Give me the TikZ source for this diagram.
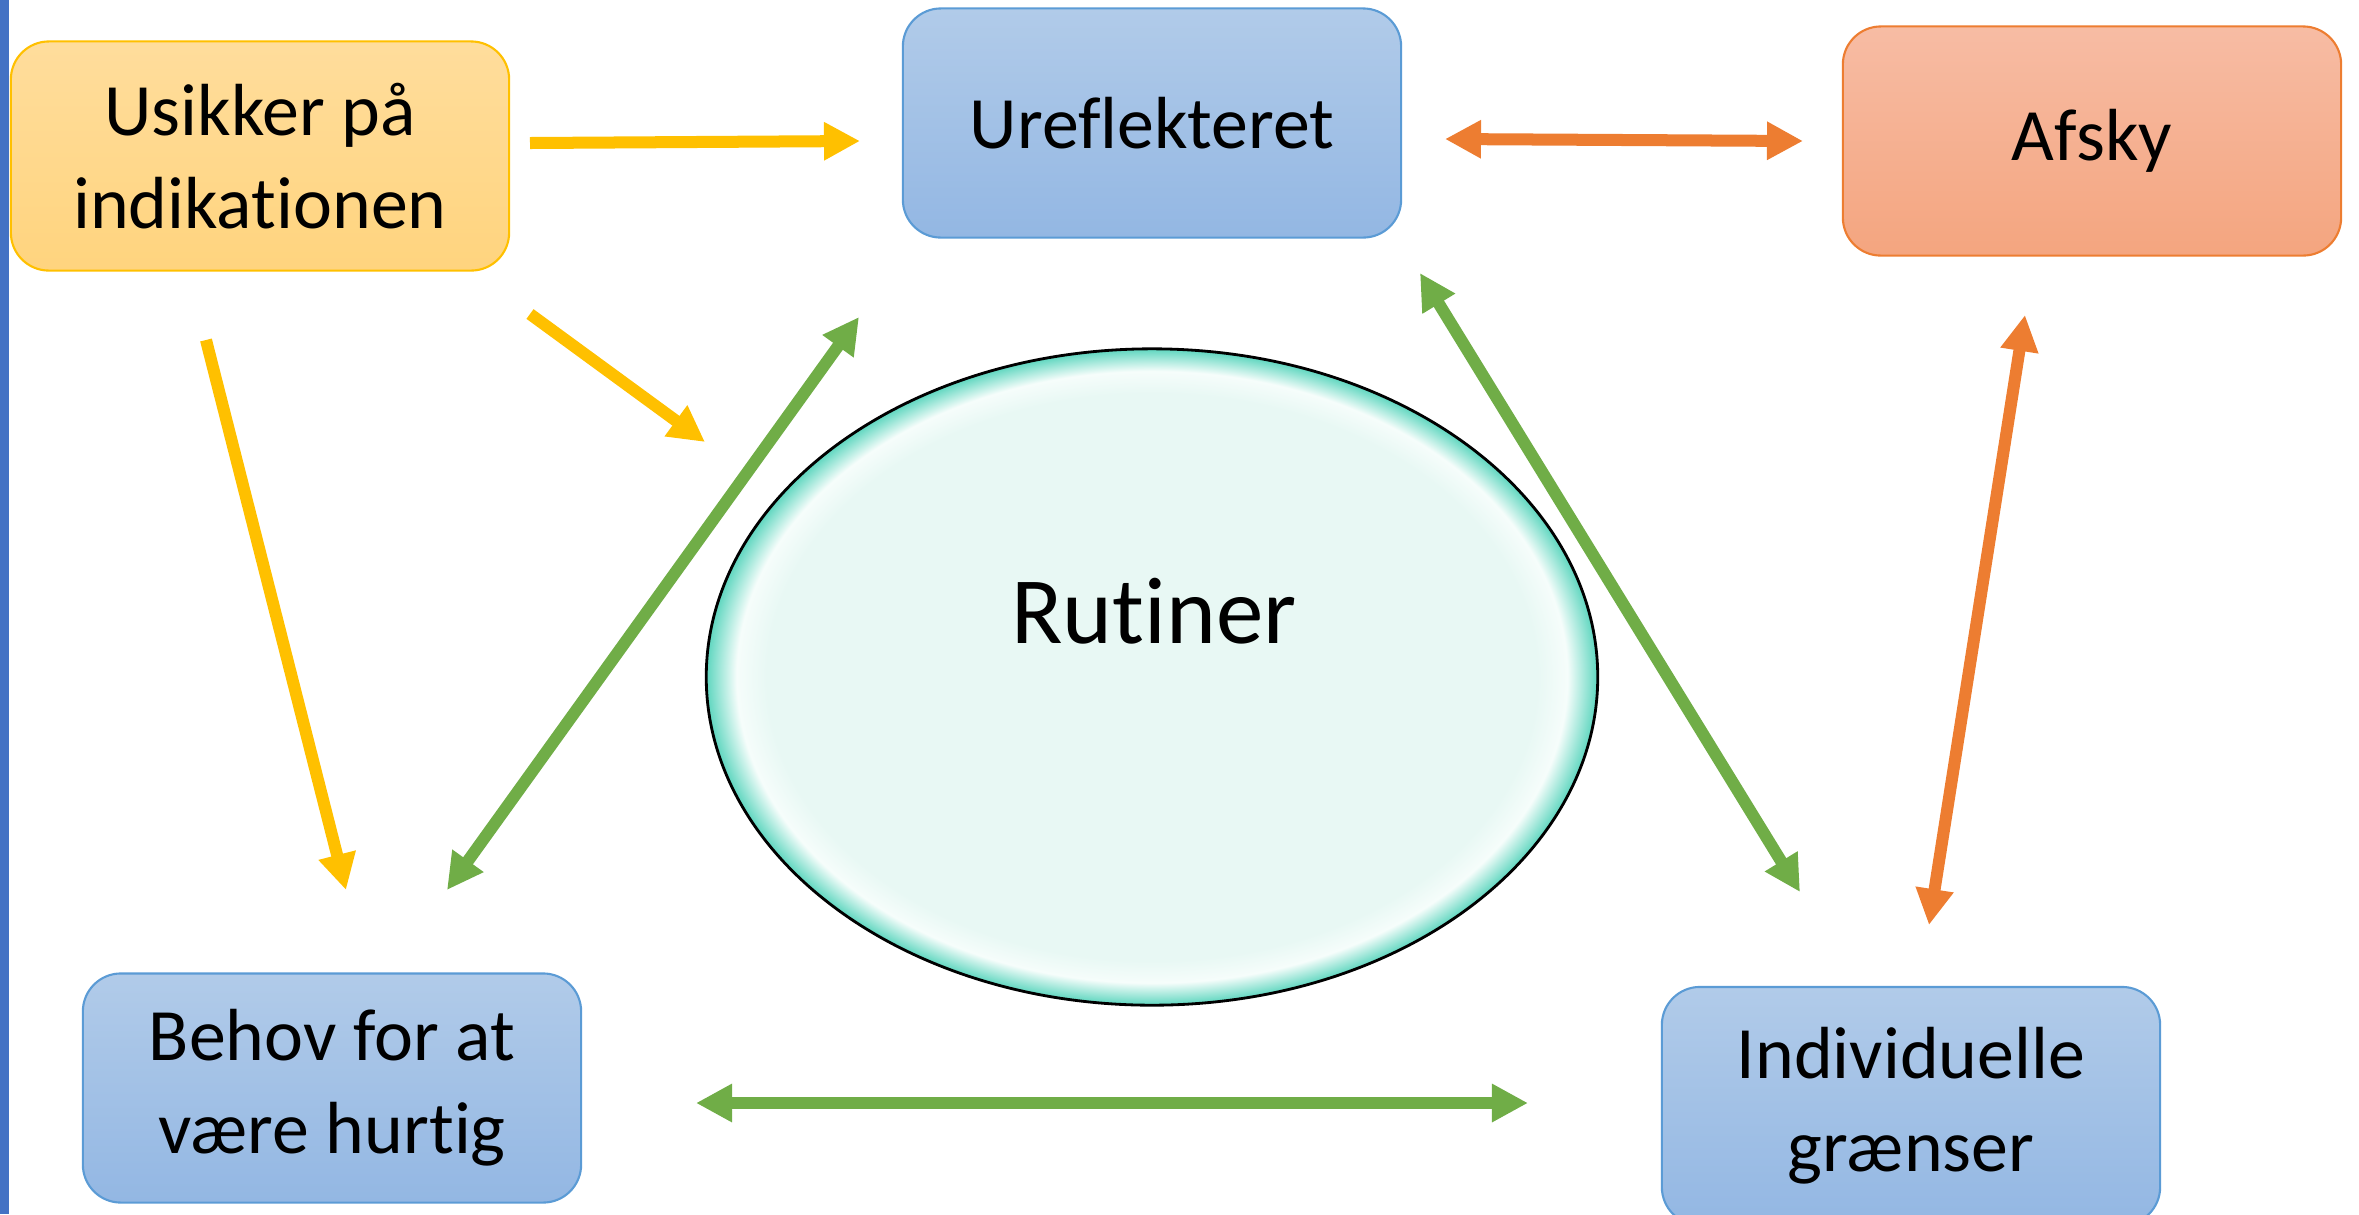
\documentclass[tikz,border=0pt]{standalone}
\usepackage{fontspec}
\setmainfont{Carlito}[Ligatures=NoCommon]
\usetikzlibrary{arrows.meta,shapes.geometric}
\definecolor{sideblue}{HTML}{4472C4}
\definecolor{boxblueline}{HTML}{5B9BD5}
\definecolor{boxbluetop}{HTML}{B1CBE9}
\definecolor{boxbluebot}{HTML}{93B7E3}
\definecolor{boxyelline}{HTML}{FFC000}
\definecolor{boxyeltop}{HTML}{FFDD9C}
\definecolor{boxyelbot}{HTML}{FFD47E}
\definecolor{boxorgline}{HTML}{ED7D31}
\definecolor{boxorgtop}{HTML}{F7BCA4}
\definecolor{boxorgbot}{HTML}{F4A57F}
\definecolor{arryel}{HTML}{FFC000}
\definecolor{arrgreen}{HTML}{70AD47}
\definecolor{arrorange}{HTML}{ED7D31}
\definecolor{mintfill}{HTML}{E8F8F4}
\definecolor{rimlight}{HTML}{F6FDFB}
\definecolor{rimteal}{HTML}{5ED6BF}
\pgfdeclareradialshading{rutinerrim}{\pgfpointorigin}{color(0bp)=(mintfill); color(21.6bp)=(mintfill); color(23.3bp)=(rimlight); color(25bp)=(rimteal); color(50bp)=(rimteal)}
\begin{document}
\begin{tikzpicture}[x=0.01cm,y=-0.01cm,
	box/.style={rectangle,rounded corners=0.38cm,minimum width=4.98cm,minimum height=2.29cm,align=center,font=\fontsize{21}{26.5}\selectfont,line width=0.6pt},
	bluebox/.style={box,draw=boxblueline,top color=boxbluetop,bottom color=boxbluebot},
	yelbox/.style={box,draw=boxyelline,top color=boxyeltop,bottom color=boxyelbot},
	orgbox/.style={box,draw=boxorgline,top color=boxorgtop,bottom color=boxorgbot},
	yarrow/.style={draw=arryel,line width=0.12cm,-{Triangle[length=0.36cm,width=0.36cm]}},
	garrow/.style={draw=arrgreen,line width=0.12cm,{Triangle[length=0.36cm,width=0.36cm]}-{Triangle[length=0.36cm,width=0.36cm]}},
	oarrow/.style={draw=arrorange,line width=0.12cm,{Triangle[length=0.36cm,width=0.36cm]}-{Triangle[length=0.36cm,width=0.36cm]}}]
	\useasboundingbox (0,0) rectangle (2359,1214);
	\fill[sideblue] (0,0) rectangle (9,1214);
	% boxes
	\node[yelbox] (usikker) at (260,156) {Usikker på\\indikationen};
	\node[bluebox] (ureflekteret) at (1152,123) {Ureflekteret};
	\node[orgbox] (afsky) at (2092,141) {Afsky};
	\node[bluebox] (behov) at (332,1088) {Behov for at\\være hurtig};
	\node[bluebox,minimum height=2.38cm] (individuelle) at (1911,1106) {Individuelle\\grænser};
	% ellipse in the middle
	\node[ellipse,draw=black,line width=0.8pt,shading=rutinerrim,minimum width=8.91cm,minimum height=6.56cm] (rutiner) at (1152,677) {};
	\node[font=\fontsize{27}{32}\selectfont] (rutinertext) at (1154,611) {Rutiner};
	% arrow ends
	\coordinate (y1a) at (530,143); \coordinate (y1b) at (860,141);
	\coordinate (y2a) at (530,314); \coordinate (y2b) at (705,442);
	\coordinate (y3a) at (206,340); \coordinate (y3b) at (346,890);
	\coordinate (g1a) at (859,317); \coordinate (g1b) at (447,890);
	\coordinate (g2a) at (1420,273); \coordinate (g2b) at (1800,892);
	\coordinate (g3a) at (696,1103); \coordinate (g3b) at (1528,1103);
	\coordinate (o1a) at (1445,139); \coordinate (o1b) at (1803,141);
	\coordinate (o2a) at (2025,315); \coordinate (o2b) at (1929,925);
	% connectors
	\draw[yarrow] (y1a) -- (y1b);
	\draw[yarrow] (y2a) -- (y2b);
	\draw[yarrow] (y3a) -- (y3b);
	\draw[garrow] (g1a) -- (g1b);
	\draw[garrow] (g2a) -- (g2b);
	\draw[garrow] (g3a) -- (g3b);
	\draw[oarrow] (o1a) -- (o1b);
	\draw[oarrow] (o2a) -- (o2b);
\end{tikzpicture}
\end{document}
